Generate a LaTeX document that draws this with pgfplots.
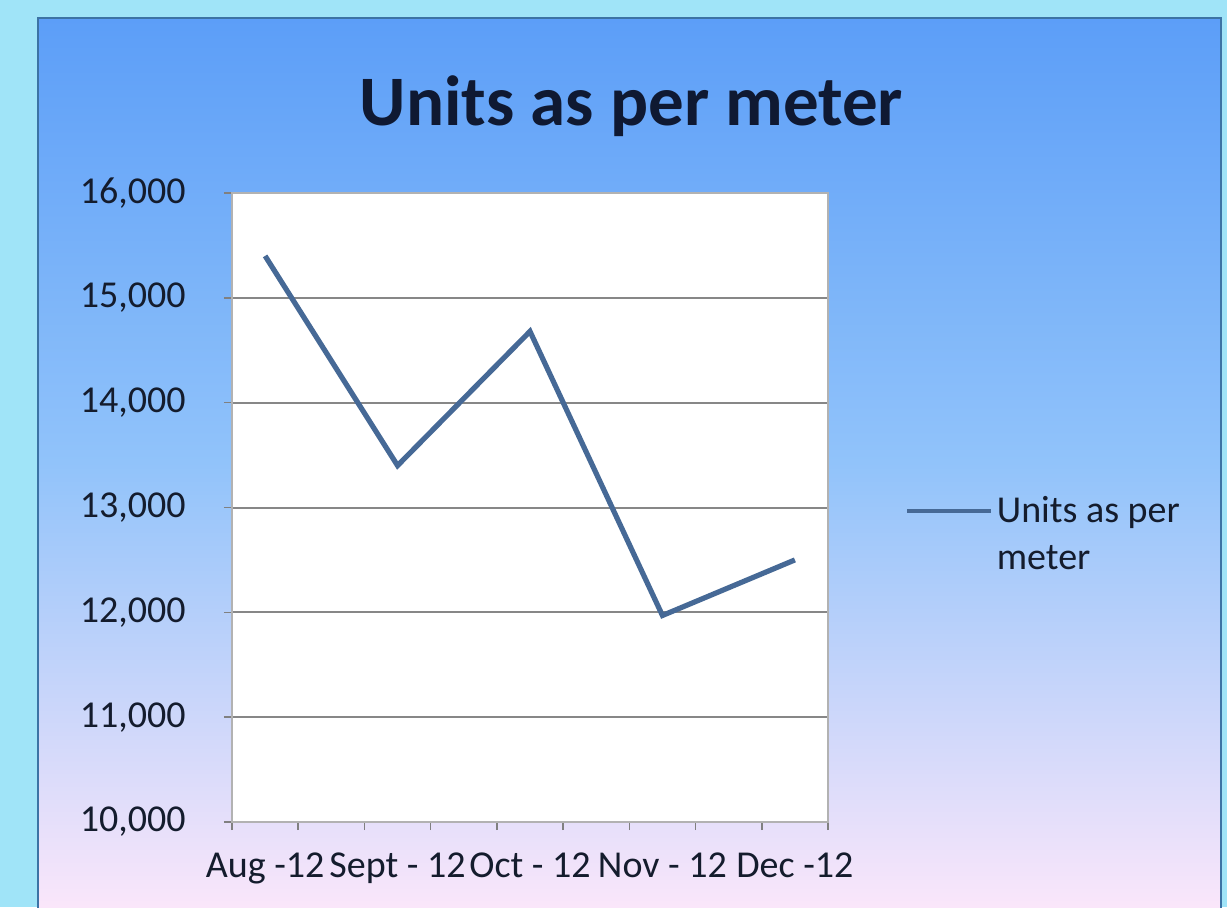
\documentclass[border=0pt]{standalone}
\usepackage{pgfplots}
\pgfplotsset{compat=1.18}
\usepackage{fontspec}
\setmainfont{Carlito}
\definecolor{outerc}{RGB}{160,228,248}
\definecolor{topc}{RGB}{92,158,248}
\definecolor{midc}{RGB}{145,195,250}
\definecolor{botc}{RGB}{250,230,250}
\definecolor{framec}{RGB}{60,115,165}
\definecolor{linec}{RGB}{70,105,150}
\definecolor{gridc}{RGB}{135,135,135}
\definecolor{titlec}{RGB}{15,25,50}
\definecolor{labc}{RGB}{20,28,45}
\begin{document}
\begin{tikzpicture}
\useasboundingbox (-116pt,-42.5pt) rectangle (497.5pt,411pt);
\fill[outerc] (-116pt,-42.5pt) rectangle (497.5pt,411pt);
\shade[top color=topc, bottom color=botc, middle color=midc] (-97pt,-42.5pt) rectangle (494.5pt,402pt);
\draw[framec, line width=1.2pt] (-97pt,-43pt) -- (-97pt,402pt) -- (494.5pt,402pt) -- (494.5pt,-43pt);
\node[font=\bfseries\fontsize{35.5}{40}\selectfont, text=titlec, anchor=base] at (199.75pt,348.5pt) {Units as per meter};
\begin{axis}[
  at={(0pt,0pt)}, anchor=south west,
  scale only axis, width=298pt, height=314.5pt,
  xmin=-0.25, xmax=4.25, ymin=10000, ymax=16000,
  axis background/.style={fill=white},
  xtick={0,1,2,3,4},
  xticklabels={Aug -12, Sept - 12, Oct - 12, Nov - 12, Dec -12},
  minor xtick={-0.25,0.25,0.75,1.25,1.75,2.25,2.75,3.25,3.75,4.25},
  ytick={10000,11000,...,16000},
  xtick pos=bottom, ytick pos=left,
  tick align=outside, major tick length=4pt, minor tick length=4pt,
  major x tick style={draw=none},
  tick style={gray, line width=0.8pt},
  ymajorgrids, major grid style={gridc, line width=1pt},
  axis line style={gray!60, line width=1pt},
  ticklabel style={font=\fontsize{19}{22}\selectfont, text=labc},
  scaled y ticks=false,
  yticklabel style={anchor=east, inner sep=0pt, xshift=-19pt,
    /pgf/number format/.cd, fixed, 1000 sep={,}, assume math mode=true},
  xticklabel style={anchor=north, inner sep=0pt, yshift=-11pt},
  legend style={at={(axis description cs:1.129,0.458)}, anchor=west, draw=none, fill=none,
    font=\fontsize{19}{23.5}\selectfont, text=labc, cells={align=left}, inner sep=0pt,
    /tikz/every even column/.append style={column sep=1pt}},
  legend image code/.code={\draw[#1, line width=1.8pt] (0pt,11.5pt) -- (42pt,11.5pt);},
]
\addplot[linec, line width=2.6pt, line join=miter] coordinates {
  (0,15400) (1,13400) (2,14680) (3,11970) (4,12500)
};
\addlegendentry{Units as per\\meter}
\end{axis}
\end{tikzpicture}
\end{document}
